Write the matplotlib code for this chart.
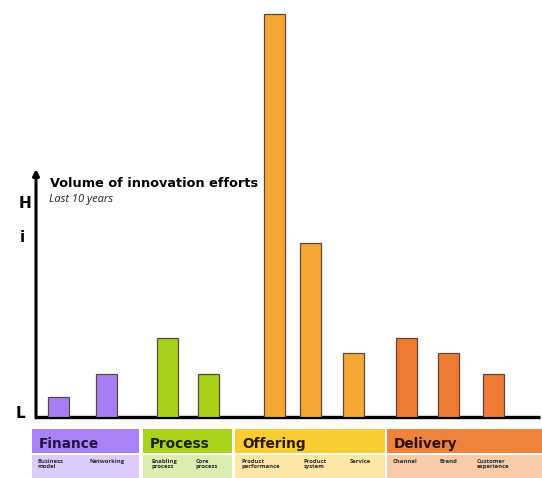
import matplotlib.pyplot as plt
from matplotlib.patches import Rectangle

# innovation effort per type (relative volume, last 10 years)
categories = ['Business\nmodel', 'Networking', 'Enabling\nprocess', 'Core\nprocess',
              'Product\nperformance', 'Product\nsystem', 'Service',
              'Channel', 'Brand', 'Customer\nexperience']
volumes = [0.93, 2.0, 3.67, 2.0, 18.74, 8.1, 3.0, 3.67, 3.0, 2.0]
groups = ['Finance', 'Process', 'Offering', 'Delivery']
group_of = [0, 0, 1, 1, 2, 2, 2, 3, 3, 3]

bar_colors = ['#a77ef7', '#a6d31a', '#f4a733', '#ee7b31']
head_colors = ['#a982f7', '#a9d41d', '#f9cc32', '#f0833b']
sub_colors = ['#dccbfb', '#dcedb0', '#fde7a6', '#f8cba9']
head_text = ['#1c1640', '#1a2208', '#2a1c05', '#2a1208']

W, H = 542, 478
fig = plt.figure(figsize=(W / 100, H / 100), dpi=100)

# background axes in pixel units for frame, labels and the category strip
bg = fig.add_axes([0, 0, 1, 1])
bg.set_xlim(0, W)
bg.set_ylim(H, 0)
bg.axis('off')

# bars
x0, base, top = 36, 417, 10
ax = fig.add_axes([x0 / W, (H - base) / H, (540 - x0) / W, (base - top) / H])
ax.axis('off')
ax.set_xlim(0, 540 - x0)
ax.set_ylim(0, (base - top) / 21.5)
centers = [58.5, 106.5, 167.5, 208.5, 274, 310.5, 353.5, 406, 448, 493]
xs = [c - x0 for c in centers]
ax.bar(xs, volumes, width=21, color=[bar_colors[g] for g in group_of],
       edgecolor='#5b4a3c', linewidth=0.9)

# axes lines with arrow
bg.plot([x0, 540], [base, base], color='black', lw=2.4, solid_capstyle='butt')
bg.annotate('', xy=(x0, 169), xytext=(x0, base + 1),
            arrowprops=dict(arrowstyle='-|>', color='black', lw=2.2,
                            mutation_scale=9, shrinkA=0, shrinkB=0))

bold = dict(fontweight='bold', family='DejaVu Sans', va='baseline')
bg.text(19, 208, 'H', fontsize=11, **bold)
bg.text(20, 242, 'i', fontsize=11, **bold)
bg.text(16, 418, 'L', fontsize=11, **bold)
bg.text(50, 187, 'Volume of innovation efforts', fontsize=9.3, **bold)
bg.text(49, 202, 'Last 10 years', fontsize=8, style='italic', va='baseline',
        family='Open Sans', color='#222222')

# category strip
spans = [(32, 139), (143, 232), (235, 385), (387, 542)]
for i, (a, b) in enumerate(spans):
    bg.add_patch(Rectangle((a, 429), b - a, 24, color=head_colors[i], lw=0))
    bg.add_patch(Rectangle((a, 455), b - a, 24, color=sub_colors[i], lw=0))
    bg.text(a + 7, 448, groups[i], fontsize=9.8, color=head_text[i], **bold)

label_x = [38, 90, 152, 196, 242, 304, 350, 393, 440, 477]
for lx, name in zip(label_x, categories):
    bg.text(lx, 459, name, fontsize=4.2, fontweight='bold', va='top',
            family='Open Sans', color='#2a2a2a', linespacing=1.0)

fig.savefig('out.png', dpi=100)
